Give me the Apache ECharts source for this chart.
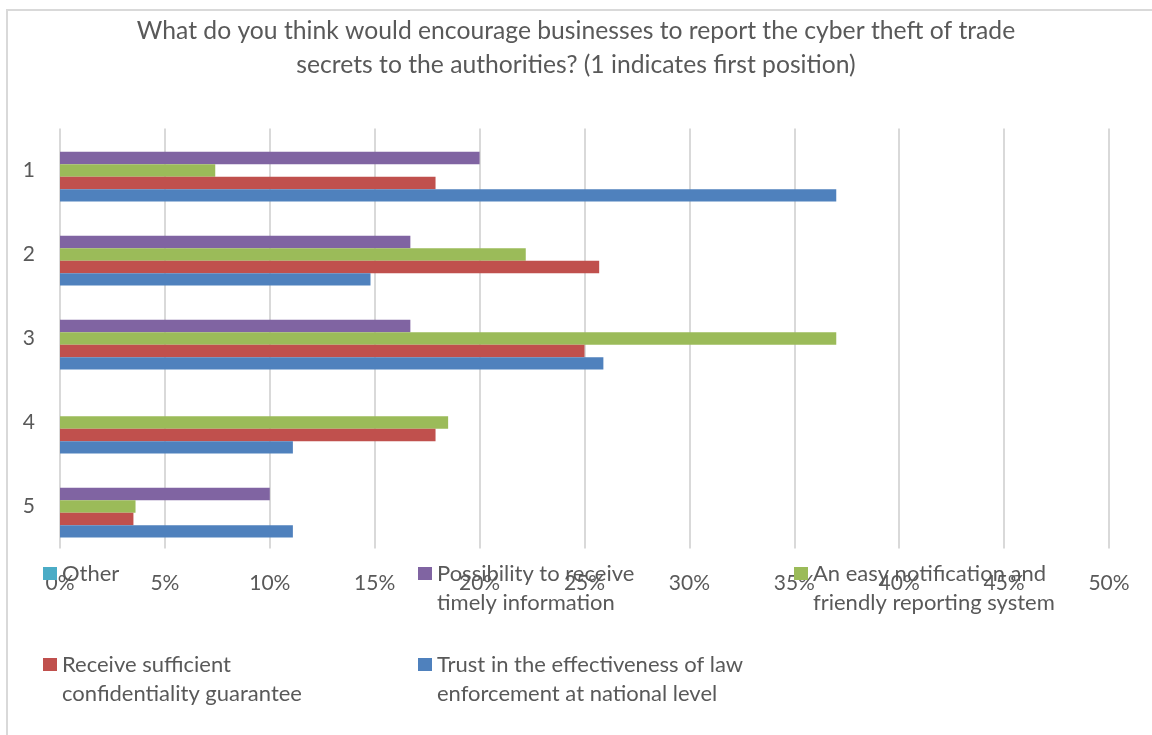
<!DOCTYPE html>
<html>
<head>
<meta charset="utf-8">
<script src="https://cdn.jsdelivr.net/npm/echarts@6/dist/echarts.min.js"></script>
<style>
  html, body { margin: 0; padding: 0; background: #fff; }
  #chart { width: 1152px; height: 735px; }
</style>
</head>
<body>
<div id="chart"></div>
<script>
// Ranking positions (1 = first position)
const positions = ['1', '2', '3', '4', '5'];

// Share of respondents (%) per ranking position
const trustLaw      = [37.0, 14.8, 25.9, 11.1, 11.1];
const confidential  = [17.9, 25.7, 25.0, 17.9, 3.5];
const easyReporting = [7.4, 22.2, 37.0, 18.5, 3.6];
const timelyInfo    = [20.0, 16.7, 16.7, 0, 10.0];
const other         = [0, 0, 0, 0, 0];

// Series listed top-to-bottom inside each position group
const seriesNames = [
  'Other',
  'Possibility to receive timely information',
  'An easy notification and friendly reporting system',
  'Receive sufficient confidentiality guarantee',
  'Trust in the effectiveness of law enforcement at national level'
];
const seriesValues = [other, timelyInfo, easyReporting, confidential, trustLaw];
const seriesColors = ['#4bacc6', '#8064a2', '#9bbb59', '#c0504d', '#4f81bd'];

// Legend labels, wrapped as in the legend boxes
const legendLabels = {
  'Other': 'Other',
  'Possibility to receive timely information': 'Possibility to receive\ntimely information',
  'An easy notification and friendly reporting system': 'An easy notification and\nfriendly reporting system',
  'Receive sufficient confidentiality guarantee': 'Receive sufficient\nconfidentiality guarantee',
  'Trust in the effectiveness of law enforcement at national level': 'Trust in the effectiveness of law\nenforcement at national level'
};

const FONT = 'Lato, "Open Sans", sans-serif';
const TEXT = '#595959';
const LINE_H = 29;

// One legend box per entry; wrapped labels get a leading blank line so the
// swatch lines up with the first text line.
function legendFor(name, left, top) {
  const label = legendLabels[name];
  const wrapped = label.indexOf('\n') >= 0;
  return {
    data: [name],
    left: left,
    top: top,
    padding: 0,
    itemWidth: 14,
    itemHeight: 13,
    selectedMode: false,
    icon: 'rect',
    formatter: () => (wrapped ? '\n' + label : label),
    textStyle: { fontFamily: FONT, fontSize: 22, color: TEXT, lineHeight: LINE_H }
  };
}

const chart = echarts.init(document.getElementById('chart'), null, { renderer: 'canvas' });
chart.setOption({
  animation: false,
  backgroundColor: '#fff',
  title: {
    text: 'What do you think would encourage businesses to report the cyber theft of trade\nsecrets to the authorities? (1 indicates first position)',
    left: 'center',
    top: 14,
    padding: 0,
    textStyle: { fontFamily: FONT, fontSize: 24.7, fontWeight: 'normal', color: TEXT, lineHeight: 34, align: 'center' }
  },
  graphic: [{
    type: 'polyline',
    shape: { points: [[7, 735], [7, 10], [1152, 10]] },
    style: { stroke: '#d9d9d9', lineWidth: 2, fill: null },
    silent: true
  }],
  legend: [
    legendFor(seriesNames[0], 43, 559),
    legendFor(seriesNames[1], 418, 530),
    legendFor(seriesNames[2], 794, 530),
    legendFor(seriesNames[3], 43, 621),
    legendFor(seriesNames[4], 418, 621)
  ],
  grid: { left: 60, right: 43, top: 128.5, bottom: 186.5, containLabel: false },
  xAxis: {
    type: 'value',
    min: 0, max: 50, interval: 5,
    axisLine: { show: false },
    axisTick: { show: false },
    axisLabel: { formatter: '{value}%', fontFamily: FONT, fontSize: 21, color: TEXT, margin: 24 },
    splitLine: { show: true, lineStyle: { color: '#d9d9d9', width: 2 } }
  },
  yAxis: {
    type: 'category',
    data: positions,
    inverse: true,
    axisLine: { show: false },
    axisTick: { show: false },
    axisLabel: { fontFamily: FONT, fontSize: 21, color: TEXT, margin: 25 }
  },
  series: seriesNames.map((name, i) => ({
    name: name,
    type: 'bar',
    data: seriesValues[i],
    itemStyle: { color: seriesColors[i] },
    barGap: '0%',
    barCategoryGap: '26%'
  }))
});
</script>
</body>
</html>
